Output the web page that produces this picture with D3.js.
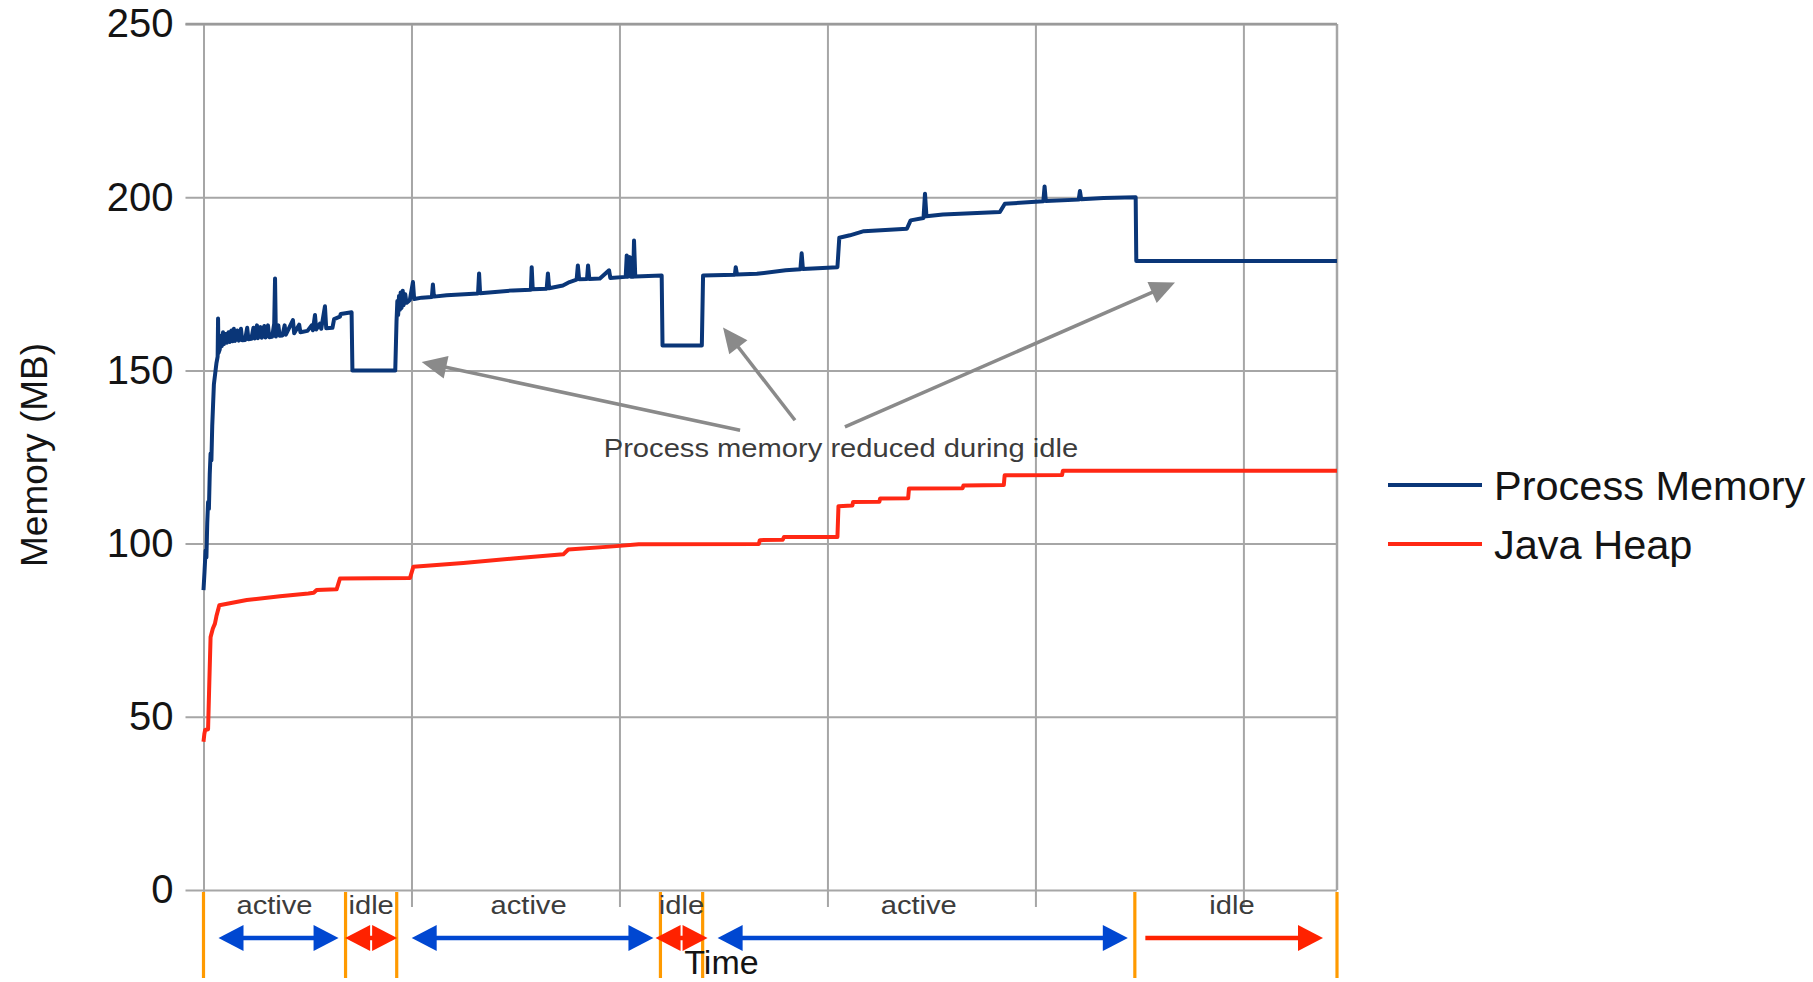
<!DOCTYPE html>
<html>
<head>
<meta charset="utf-8">
<script src="https://cdn.jsdelivr.net/npm/d3@7"></script>
<style>
  html, body { margin: 0; padding: 0; background: #fff; }
  svg { display: block; font-family: "Liberation Sans", Arial, Helvetica, sans-serif; }
</style>
</head>
<body>
<svg id="chart" width="1813" height="982"></svg>
<script>
// ---- data: [time, MB] ----
const processMemory = [
  [0.00, 86.6], [0.05, 92], [0.10, 98], [0.14, 96], [0.18, 106], [0.22, 112], [0.26, 110],
  [0.30, 120], [0.34, 126], [0.38, 124], [0.42, 134], [0.46, 140], [0.50, 146], [0.56, 149],
  [0.62, 152], [0.68, 154], [0.70, 165], [0.72, 155], [0.78, 156], [0.84, 160], [0.88, 157],
  [0.94, 161], [0.98, 157.6], [1.06, 160.5], [1.12, 158], [1.20, 161], [1.26, 158.2],
  [1.34, 161.5], [1.40, 158.4], [1.46, 162], [1.52, 158.5], [1.62, 161.5], [1.70, 158.6],
  [1.80, 162], [1.86, 158.7], [2.00, 158.8], [2.10, 162.3], [2.16, 159], [2.30, 159.1],
  [2.40, 162.3], [2.46, 159.2], [2.57, 163], [2.62, 159.3], [2.74, 162.5], [2.80, 159.4],
  [2.92, 162.8], [2.98, 159.5], [3.10, 163], [3.16, 159.6], [3.30, 159.7], [3.40, 163.5],
  [3.44, 176.5], [3.48, 159.8], [3.60, 163], [3.66, 160], [3.80, 160.1], [3.90, 163],
  [3.96, 160.3], [4.30, 164.5], [4.36, 160.7], [4.60, 163.2], [4.66, 161], [5.00, 161.4],
  [5.20, 163], [5.26, 161.6], [5.36, 166], [5.42, 161.8], [5.60, 163.5], [5.66, 162],
  [5.84, 168.5], [5.90, 162.2], [6.20, 162.3], [6.28, 164.8], [6.56, 165.5], [6.60, 166.3],
  [7.12, 166.8], [7.16, 150], [9.22, 150], [9.28, 164], [9.32, 170], [9.36, 166],
  [9.40, 171.5], [9.44, 167.5], [9.48, 172.5], [9.52, 168], [9.58, 173], [9.62, 168.8],
  [9.70, 172], [9.76, 169.5], [9.86, 170], [9.92, 170.3], [10.07, 175.5], [10.13, 170.6],
  [10.50, 171], [10.98, 171.2], [11.03, 174.8], [11.08, 171.3], [11.69, 171.7], [13.20, 172.2],
  [13.25, 178], [13.30, 172.3], [14.88, 173.1], [15.74, 173.3], [15.78, 179.8], [15.83, 173.4],
  [16.50, 173.6], [16.56, 178], [16.62, 173.7], [17.28, 174.5], [17.60, 175.5], [17.94, 176.2],
  [18.00, 180.3], [18.06, 176.3], [18.44, 176.4], [18.49, 180.3], [18.55, 176.4], [19.06, 176.5],
  [19.50, 178.9], [19.56, 176.7], [20.30, 177], [20.35, 183.2], [20.40, 177], [20.50, 182.7],
  [20.56, 177], [20.66, 177], [20.70, 187.5], [20.76, 177.1], [22.03, 177.4], [22.07, 157.2],
  [23.96, 157.2], [24.02, 177.4], [25.55, 177.6], [25.59, 179.8], [25.65, 177.7], [26.61, 177.9],
  [27.99, 178.9], [28.70, 179.2], [28.76, 183.8], [28.82, 179.3], [30.48, 179.8], [30.57, 188.3],
  [31.08, 189], [31.75, 190.2], [33.82, 190.9], [34.00, 193.3], [34.62, 194], [34.69, 201],
  [34.76, 194.5], [35.55, 195], [38.29, 195.7], [38.53, 198.1], [40.38, 198.8], [40.44, 203.1],
  [40.50, 198.9], [42.08, 199.3], [42.14, 201.8], [42.20, 199.4], [43.27, 199.8], [44.82, 200],
  [44.85, 181.6], [54.50, 181.6]
];

const javaHeap = [
  [0.00, 42.8], [0.04, 45], [0.08, 46.2], [0.22, 46.4], [0.28, 60], [0.34, 73], [0.45, 75.5],
  [0.55, 76.9], [0.62, 79], [0.76, 82.2], [2.08, 83.7], [3.68, 84.8], [5.04, 85.6], [5.30, 85.8],
  [5.44, 86.6], [6.40, 86.8], [6.56, 89.9], [9.93, 90.1], [10.09, 93.3], [12.49, 94.4],
  [14.89, 95.7], [17.30, 96.9], [17.54, 98.3], [19.70, 99.2], [20.93, 99.8], [26.70, 99.9],
  [26.75, 101], [27.85, 101.1], [27.91, 101.9], [30.48, 101.9], [30.53, 110.8], [31.20, 111],
  [31.23, 112], [32.50, 112.1], [32.53, 113], [33.88, 113.1], [33.92, 115.9], [36.50, 116],
  [36.54, 116.8], [38.48, 116.9], [38.52, 119.7], [41.28, 119.8], [41.32, 121], [54.50, 121]
];

const seriesNames = ["Process Memory", "Java Heap"];
const yTicks = [0, 50, 100, 150, 200, 250];
const xGridTicks = [0, 10, 20, 30, 40, 50];
const timeDomain = [0, 54.5];

// activity phases along the time axis
const phaseLabels = ["active", "idle", "active", "idle", "active", "idle"];
const phaseBounds = [0, 6.83, 9.29, 21.97, 24.0, 44.78, 54.5];

// callout: text anchor and arrows [from, to] in [time, MB]
const noteText = "Process memory reduced during idle";
const noteAnchor = [30.65, 125.1];
const noteArrows = [
  [[25.8, 132.7], [10.49, 152.4]],
  [[28.44, 135.6], [24.98, 162.4]],
  [[30.84, 133.7], [46.71, 175.4]]
];

// ---- layout ----
const svg = d3.select("#chart");
const plot = { left: 203.5, right: 1337, top: 24, bottom: 890 };
const colors = {
  process: "#0a3678", heap: "#ff2814", grid: "#a6a6a6",
  active: "#0047d1", idle: "#ff2200", marker: "#ff9a00", note: "#8a8a8a"
};

const x = d3.scaleLinear().domain(timeDomain).range([plot.left, plot.right]);
const y = d3.scaleLinear().domain([0, 250]).range([plot.bottom, plot.top]);

// horizontal grid + value labels
const yAxis = svg.append("g")
  .attr("transform", `translate(${plot.left - 18},0)`)
  .call(d3.axisLeft(y).tickValues(yTicks).tickSize(-(plot.right - plot.left + 18)).tickPadding(12));
yAxis.select(".domain").remove();
yAxis.selectAll(".tick line").attr("stroke", colors.grid).attr("stroke-width", 2);
yAxis.selectAll(".tick text")
  .attr("fill", "#141414").attr("font-size", 40)
  .attr("font-family", "'Liberation Sans', Arial, sans-serif");

// vertical grid with short ticks below the zero line
const xAxis = svg.append("g")
  .attr("transform", `translate(0,${plot.bottom + 17})`)
  .call(d3.axisBottom(x).tickValues(xGridTicks).tickFormat("").tickSize(-(plot.bottom + 17 - plot.top)));
xAxis.select(".domain").remove();
xAxis.selectAll(".tick line").attr("stroke", colors.grid).attr("stroke-width", 2);

// right frame edge and top edge
svg.append("line")
  .attr("x1", x(timeDomain[1])).attr("x2", x(timeDomain[1]))
  .attr("y1", y(250)).attr("y2", y(0))
  .attr("stroke", colors.grid).attr("stroke-width", 2.5);
svg.append("line")
  .attr("x1", plot.left - 18).attr("x2", plot.right)
  .attr("y1", y(250)).attr("y2", y(250))
  .attr("stroke", "#9a9a9a").attr("stroke-width", 2.5);

// series
const line = d3.line().x(d => x(d[0])).y(d => y(d[1]));
svg.append("path").datum(javaHeap)
  .attr("d", line).attr("fill", "none")
  .attr("stroke", colors.heap).attr("stroke-width", 4).attr("stroke-linejoin", "round");
svg.append("path").datum(processMemory)
  .attr("d", line).attr("fill", "none")
  .attr("stroke", colors.process).attr("stroke-width", 4).attr("stroke-linejoin", "round");

// callout arrows and text
function headPoints(tipX, tipY, fromX, fromY, len, half) {
  const a = Math.atan2(tipY - fromY, tipX - fromX);
  const bx = tipX - len * Math.cos(a), by = tipY - len * Math.sin(a);
  const px = -Math.sin(a) * half, py = Math.cos(a) * half;
  return [[tipX, tipY], [bx + px, by + py], [bx - px, by - py]];
}
const noteG = svg.append("g");
noteArrows.forEach(([from, to]) => {
  const x1 = x(from[0]), y1 = y(from[1]), x2 = x(to[0]), y2 = y(to[1]);
  const a = Math.atan2(y2 - y1, x2 - x1);
  noteG.append("line")
    .attr("x1", x1).attr("y1", y1)
    .attr("x2", x2 - 20 * Math.cos(a)).attr("y2", y2 - 20 * Math.sin(a))
    .attr("stroke", colors.note).attr("stroke-width", 3.5);
  noteG.append("polygon")
    .attr("points", headPoints(x2, y2, x1, y1, 25, 11.5).map(p => p.join(",")).join(" "))
    .attr("fill", colors.note);
});
noteG.append("text")
  .attr("transform", `translate(${x(noteAnchor[0])},${y(noteAnchor[1])}) scale(1.1,1)`)
  .attr("text-anchor", "middle").attr("font-size", 26.5).attr("fill", "#3c3c3c")
  .text(noteText);

// phase markers, labels and span arrows below the axis
const phaseG = svg.append("g");
const markTop = plot.bottom + 2, markBottom = plot.bottom + 88;
const arrowY = plot.bottom + 48, labelY = plot.bottom + 23.5;
const headLen = 25, headHalf = 13, shaftW = 4.5;

function head(g, tipX, dir, color) {
  // dir = -1 points left, +1 points right
  const b = tipX - dir * headLen;
  g.append("polygon")
    .attr("points", `${tipX},${arrowY} ${b},${arrowY - headHalf} ${b},${arrowY + headHalf}`)
    .attr("fill", color);
}
function shaft(g, xa, xb, color) {
  g.append("line").attr("x1", xa).attr("x2", xb)
    .attr("y1", arrowY).attr("y2", arrowY)
    .attr("stroke", color).attr("stroke-width", shaftW);
}

phaseBounds.forEach(t => {
  phaseG.append("line")
    .attr("x1", x(t)).attr("x2", x(t))
    .attr("y1", markTop).attr("y2", markBottom)
    .attr("stroke", colors.marker).attr("stroke-width", 3.2);
});

phaseLabels.forEach((label, i) => {
  const x0 = x(phaseBounds[i]), x1 = x(phaseBounds[i + 1]);
  const mid = (x0 + x1) / 2;
  const isLast = i === phaseLabels.length - 1;
  const g = phaseG.append("g");
  if (label === "active") {
    const l = x0 + 15, r = x1 - 7;
    shaft(g, l + 10, r - 10, colors.active);
    head(g, l, -1, colors.active);
    head(g, r, 1, colors.active);
  } else if (isLast) {
    const l = x0 + 10.5, r = x1 - 14;
    shaft(g, l, r - 10, colors.idle);
    head(g, r, 1, colors.idle);
  } else {
    // two heads back to back, pointing outwards from the middle
    shaft(g, mid - 4, mid + 4, colors.idle);
    head(g, mid - 1 - headLen, -1, colors.idle);
    head(g, mid + 1 + headLen, 1, colors.idle);
  }
  phaseG.append("text")
    .attr("transform", `translate(${isLast ? mid - 4 : mid},${labelY}) scale(1.1,1)`)
    .attr("text-anchor", "middle").attr("font-size", 26.5).attr("fill", "#3c3c3c")
    .text(label);
});

// axis titles
svg.append("text")
  .attr("x", 721.5).attr("y", 974)
  .attr("text-anchor", "middle").attr("font-size", 34).attr("fill", "#141414")
  .text("Time");
svg.append("text")
  .attr("transform", "translate(46.5,455) rotate(-90)")
  .attr("text-anchor", "middle").attr("font-size", 37).attr("fill", "#141414")
  .text("Memory (MB)");

// legend
const legend = svg.append("g");
[colors.process, colors.heap].forEach((c, i) => {
  const ly = 485 + i * 59;
  legend.append("line")
    .attr("x1", 1388).attr("x2", 1482).attr("y1", ly).attr("y2", ly)
    .attr("stroke", c).attr("stroke-width", 4);
  legend.append("text")
    .attr("x", 1494).attr("y", ly + 15)
    .attr("font-size", 41.5).attr("fill", "#141414")
    .text(seriesNames[i]);
});
</script>
</body>
</html>
